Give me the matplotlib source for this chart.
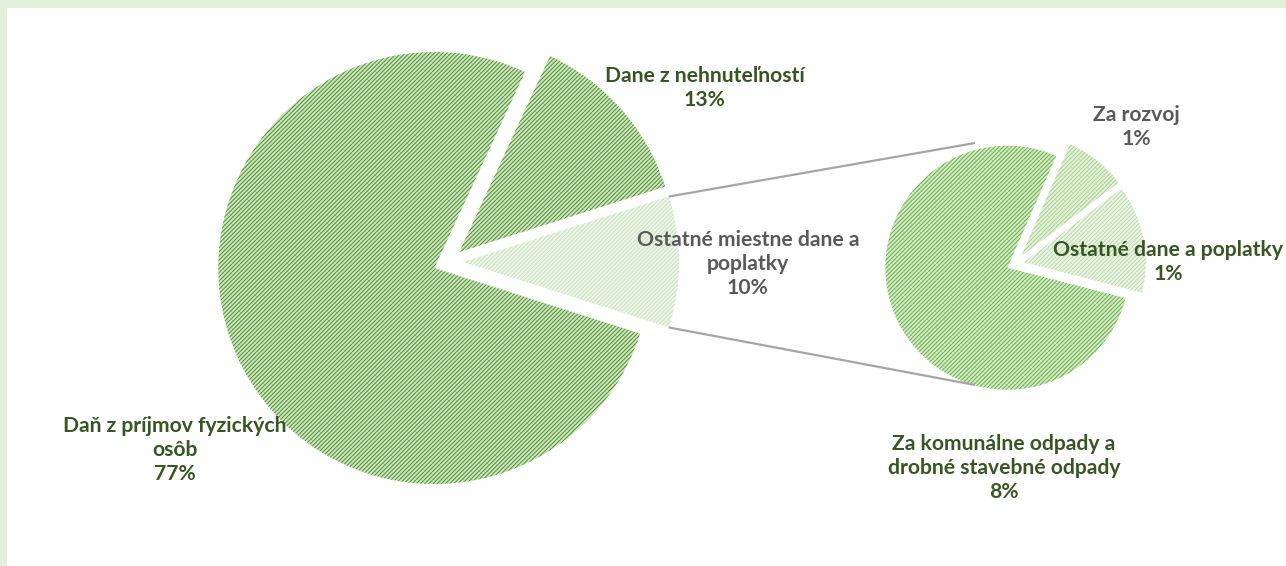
import matplotlib
matplotlib.use("Agg")
import matplotlib.pyplot as plt
from matplotlib.patches import Rectangle
import numpy as np

# main pie (share of total, %)
main_names = ["Daň z príjmov fyzických\nosôb", "Dane z nehnuteľností", "Ostatné miestne dane a\npoplatky"]
main_vals = [77.0, 13.2, 9.8]
# secondary pie (split of "Ostatné miestne dane a poplatky", % of total)
sec_names = ["Za komunálne odpady a\ndrobné stavebné odpady", "Za rozvoj", "Ostatné dane a poplatky"]
sec_vals = [7.6, 0.8, 1.4]

main_face = ["#cde6bf", "#cde6bf", "#eef6ea"]
main_hatch = ["#4f8c30", "#4f8c30", "#c9e0bd"]
sec_face = ["#d3eac6", "#e4f1dc", "#edf5e8"]
sec_hatch = ["#6aad47", "#a6cf8c", "#b9d9a7"]
main_txt = ["#375623", "#375623", "#595959"]
sec_txt = ["#375623", "#595959", "#375623"]

W, H = 1286, 566
plt.rcParams["hatch.linewidth"] = 0.7

fig = plt.figure(figsize=(W / 100, H / 100), dpi=100)
fig.patch.set_facecolor("#e2efda")
ax = fig.add_axes([0, 0, 1, 1])

total = sum(main_vals)
sec_total = sum(sec_vals)

# main pie, "other" slice centred on 0 deg
c1, r1 = (448, 304), 216
half1 = main_vals[2] / total * 180
w1, _ = ax.pie(main_vals, radius=r1, center=c1, explode=[15, 15, 15],
               startangle=360 - half1, counterclock=False,
               wedgeprops=dict(linewidth=0))
for w, fc, hc in zip(w1, main_face, main_hatch):
    w.set_facecolor(fc)
    w.set_edgecolor(hc)
    w.set_hatch("////////")
    w.set_linewidth(0)

# secondary pie, small slices grouped around ~26 deg
c2, r2 = (1015, 302), 122
small = (sec_vals[1] + sec_vals[2]) / sec_total * 360
w2, _ = ax.pie(sec_vals, radius=r2, center=c2, explode=[8.5, 10, 9],
               startangle=26 - small / 2 + 360, counterclock=False,
               wedgeprops=dict(linewidth=0))
for w, fc, hc in zip(w2, sec_face, sec_hatch):
    w.set_facecolor(fc)
    w.set_edgecolor(hc)
    w.set_hatch("////////")
    w.set_linewidth(0)

# connector lines
a = np.deg2rad(half1)
x0 = c1[0] + 15 + r1 * np.cos(a)
for s in (1, -1):
    ax.plot([x0, c2[0] - 40], [c1[1] + s * r1 * np.sin(a), c2[1] + s * (r2 - 1)],
            color="#a6a6a6", lw=1.6, solid_capstyle="butt")

# labels
main_pos = [(175, 116), (705, 478), (748, 302)]
sec_pos = [(1004, 98), (1136, 439), (1168, 304)]
font = dict(family=["Lato", "DejaVu Sans"], fontsize=15.2, fontweight="bold",
            ha="center", va="center", linespacing=1.24)
for n, v, p, col in zip(main_names, main_vals, main_pos, main_txt):
    ax.text(p[0], p[1], f"{n}\n{v / total * 100:.0f}%", color=col, **font)
for n, v, p, col in zip(sec_names, sec_vals, sec_pos, sec_txt):
    ax.text(p[0], p[1], f"{n}\n{v / total * 100:.0f}%", color=col, **font)

# white plot area inside the light green frame
ax.add_patch(Rectangle((7, 0), W - 7, H - 8, facecolor="white", edgecolor="none", zorder=-10))
ax.set_xlim(0, W)
ax.set_ylim(0, H)
ax.set_aspect("auto")
ax.axis("off")

fig.savefig("out.png", dpi=100, facecolor=fig.get_facecolor())
